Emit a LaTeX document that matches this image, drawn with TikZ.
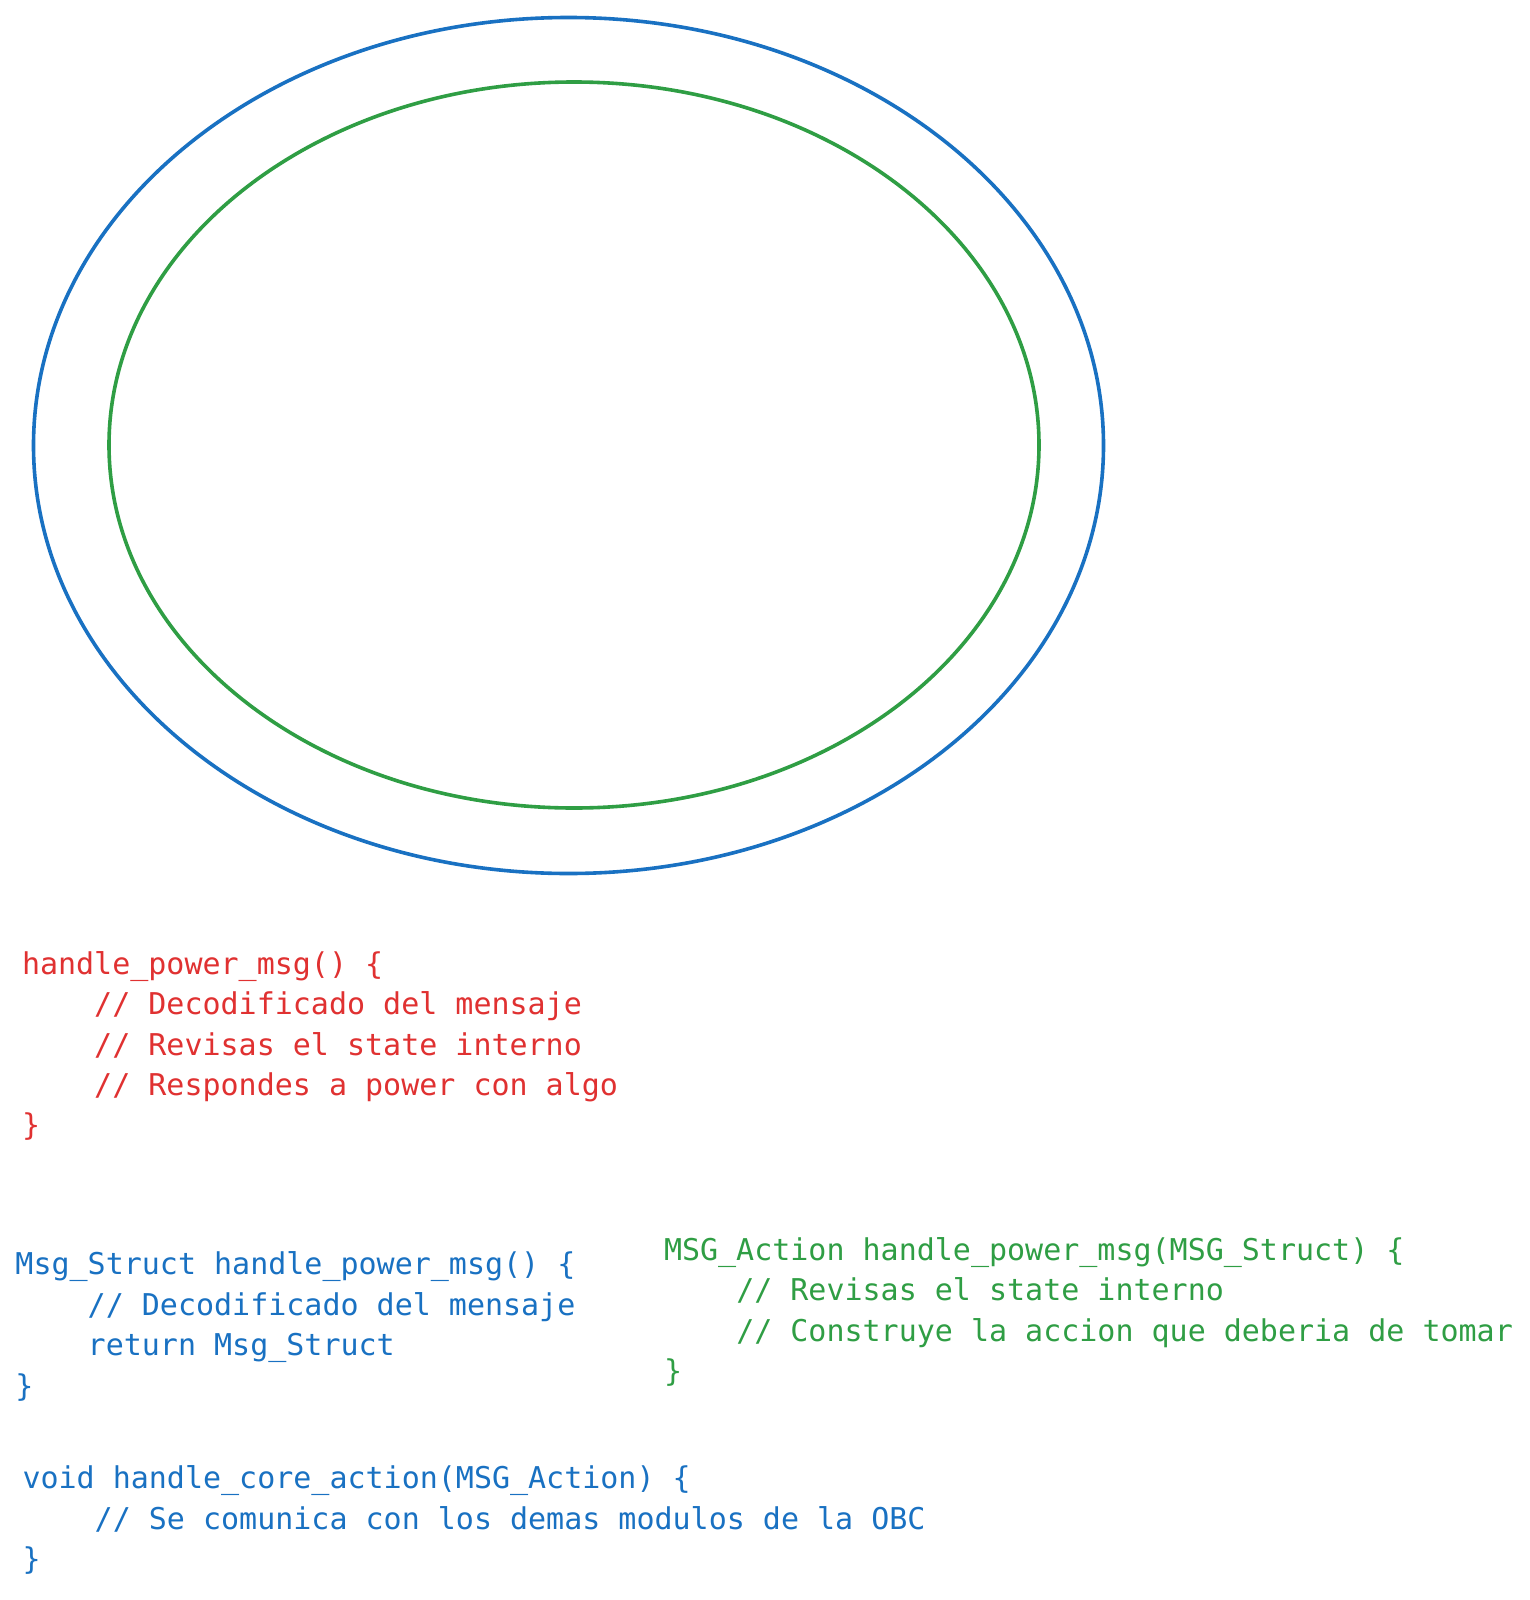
\documentclass[tikz,border=0pt]{standalone}
\usepackage{fontspec}
\newfontfamily\codefont{DejaVu Sans Mono}
\definecolor{exred}{HTML}{E03131}
\definecolor{exblue}{HTML}{1971C2}
\definecolor{exgreen}{HTML}{2F9E44}
\begin{document}
\begin{tikzpicture}[x=1pt,y=-1pt,
  ring/.style={line width=3.6pt},
  code/.style={anchor=base west,inner sep=0pt,outer sep=0pt,font=\codefont\fontsize{30}{40}\selectfont}]
\useasboundingbox[fill=white] (0,0) rectangle (1529,1600);
% ellipses
\draw[ring,exblue] (568.5,445.5) ellipse [x radius=535, y radius=428];
\draw[ring,exgreen] (574,445) ellipse [x radius=465, y radius=363];
% red block
\begin{scope}[every node/.style={code,text=exred}]
\node (r1) at (22,974) {handle\_power\_msg() \{};
\node (r2) at (22,1014.5) {\ \ \ \ // Decodificado del mensaje};
\node (r3) at (22,1055) {\ \ \ \ // Revisas el state interno};
\node (r4) at (22,1095) {\ \ \ \ // Respondes a power con algo};
\node (r5) at (22,1135.5) {\}};
\end{scope}
% blue block 1
\begin{scope}[every node/.style={code,text=exblue}]
\node (b1) at (15.5,1274.5) {Msg\_Struct handle\_power\_msg() \{};
\node (b2) at (15.5,1315) {\ \ \ \ // Decodificado del mensaje};
\node (b3) at (15.5,1355.5) {\ \ \ \ return Msg\_Struct};
\node (b4) at (15.5,1396) {\}};
\end{scope}
% green block
\begin{scope}[every node/.style={code,text=exgreen}]
\node (g1) at (664,1260) {MSG\_Action handle\_power\_msg(MSG\_Struct) \{};
\node (g2) at (664,1300.5) {\ \ \ \ // Revisas el state interno};
\node (g3) at (664,1341) {\ \ \ \ // Construye la accion que deberia de tomar};
\node (g4) at (664,1381.5) {\}};
\end{scope}
% blue block 2
\begin{scope}[every node/.style={code,text=exblue}]
\node (c1) at (22.5,1488.5) {void handle\_core\_action(MSG\_Action) \{};
\node (c2) at (22.5,1529) {\ \ \ \ // Se comunica con los demas modulos de la OBC};
\node (c3) at (22.5,1569.5) {\}};
\end{scope}
\end{tikzpicture}
\end{document}
